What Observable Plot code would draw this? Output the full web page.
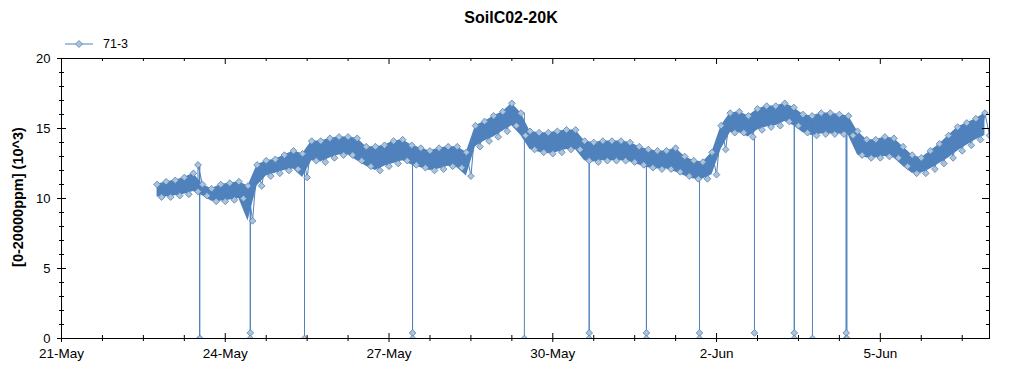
<!DOCTYPE html>
<html>
<head>
<meta charset="utf-8">
<script src="https://cdn.jsdelivr.net/npm/d3@7"></script>
<script src="https://cdn.jsdelivr.net/npm/@observablehq/plot@0.6"></script>
<style>
  body { margin: 0; background: #fff; font-family: "Liberation Sans", Arial, sans-serif; }
  #wrap { position: relative; width: 1024px; height: 375px; overflow: hidden; }
  #chart { position: absolute; left: 0; top: 0; }
  #title { position: absolute; left: 0; width: 1022px; top: 9px; text-align: center; font-weight: bold; font-size: 16px; color: #000; }
  #legend { position: absolute; left: 65px; top: 37px; display: flex; align-items: center; font-size: 12.5px; color: #000; }
  #legend svg { display: block; margin-right: 8px; }
  #ylabel { position: absolute; left: 18px; top: 197px; transform: translate(-50%, -50%) rotate(-90deg); white-space: nowrap; font-weight: bold; font-size: 14.5px; color: #000; }
</style>
</head>
<body>
<div id="wrap">
  <div id="chart"></div>
  <div id="title"></div>
  <div id="legend"></div>
  <div id="ylabel"></div>
</div>
<script>
// ---- data ----
const chartTitle = "SoilC02-20K";
const seriesName = "71-3";
const yTitle = "[0-20000ppm] (10^3)";

// regular 4-hour samples: upper and lower edge of the noisy trace
const seriesStart = "2021-05-22T18:00Z";
const stepHours = 4;
const upper = [
  11.0, 11.2, 11.3, 11.5, 11.8, 11.0, 10.7, 11.0, 11.1, 11.2,
  10.9, 12.4, 12.7, 12.8, 13.1, 13.4, 13.2, 14.1, 14.1, 14.3,
  14.4, 14.4, 14.3, 13.7, 13.7, 13.8, 14.1, 14.2, 13.8, 13.6,
  13.4, 13.6, 13.7, 13.7, 13.3, 15.2, 15.5, 15.9, 16.2, 16.8,
  16.1, 14.8, 14.7, 14.7, 14.8, 14.9, 14.9, 14.1, 14.0, 14.1,
  14.1, 14.1, 14.0, 13.7, 13.5, 13.4, 13.4, 13.6, 13.0, 12.7,
  12.6, 13.3, 15.2, 16.1, 16.2, 15.9, 16.4, 16.6, 16.6, 16.8,
  16.5, 16.0, 15.9, 16.1, 16.1, 16.0, 15.9, 14.8, 14.2, 14.2,
  14.4, 14.3, 13.7, 13.1, 12.9, 13.4, 13.9, 14.5, 15.1, 15.4,
  15.7, 16.1
];
const lower = [
  10.1, 10.1, 10.2, 10.3, 10.5, 10.2,  9.8,  9.8,  9.9, 10.0,
   8.4, 10.9, 11.6, 11.8, 12.0, 12.1, 11.5, 12.7, 12.6, 12.9,
  13.1, 13.1, 12.7, 12.3, 12.0, 12.3, 12.5, 12.7, 12.4, 12.2,
  12.0, 12.1, 12.3, 12.2, 11.6, 13.7, 14.1, 14.4, 14.8, 15.2,
  14.5, 13.5, 13.3, 13.2, 13.3, 13.5, 13.5, 12.7, 12.6, 12.7,
  12.7, 12.7, 12.6, 12.4, 12.2, 12.1, 12.1, 11.9, 11.6, 11.4,
  11.4, 11.7, 13.5, 14.7, 14.7, 14.4, 14.9, 15.1, 15.2, 15.5,
  15.2, 14.7, 14.5, 14.6, 14.6, 14.6, 14.5, 13.1, 12.9, 12.9,
  13.0, 12.9, 12.3, 11.8, 11.8, 12.1, 12.5, 12.9, 13.4, 13.8,
  14.2, 14.5
];

// isolated high reading
const outlierTimes = ["2021-05-23T12:00Z"];
const outlierValues = [12.4];

// sensor drop-outs
const dropTimes = [
  "2021-05-23T12:40Z", "2021-05-23T12:50Z",
  "2021-05-24T11:00Z", "2021-05-24T11:00Z",
  "2021-05-25T10:50Z",
  "2021-05-27T10:20Z", "2021-05-27T10:20Z",
  "2021-05-29T11:30Z",
  "2021-05-30T16:00Z", "2021-05-30T16:00Z",
  "2021-05-31T17:10Z", "2021-05-31T17:10Z",
  "2021-06-01T16:30Z", "2021-06-01T16:30Z",
  "2021-06-02T16:40Z",
  "2021-06-03T10:10Z", "2021-06-03T10:10Z",
  "2021-06-03T18:10Z",
  "2021-06-04T09:00Z", "2021-06-04T09:00Z", "2021-06-04T09:20Z"
];
const dropValues = [
  0, 0,
  0.4, 0,
  0,
  0.4, 0,
  0,
  0.4, 0,
  0.4, 0,
  0.4, 0,
  0.4,
  0.4, 0,
  0,
  0.4, 0, 0
];

const xDomain = ["2021-05-21T00:00Z", "2021-06-07T00:00Z"];
const xTickStepHours = 18;
const xLabelStepHours = 72;
const yMajor = [0, 5, 10, 15, 20];
const yMinor = [1, 2, 3, 4, 6, 7, 8, 9, 11, 12, 13, 14, 16, 17, 18, 19];

// ---- build tables ----
const H = 36e5;
const t0 = Date.parse(seriesStart);
const mainRows = [];
upper.forEach((v, i) => {
  const t = t0 + i * stepHours * H;
  mainRows.push({ t: new Date(t), v });
  mainRows.push({ t: new Date(t + stepHours * H / 2), v: lower[i] });
});
outlierTimes.forEach((s, i) => mainRows.push({ t: new Date(s), v: outlierValues[i] }));
mainRows.sort((a, b) => a.t - b.t);
const band = upper.map((v, i) => ({ t: new Date(t0 + i * stepHours * H), hi: v, lo: lower[i] }));

// each drop-out is joined to the reading just before it
const dropRows = dropTimes.map((s, i) => {
  const t = new Date(s);
  let prev = mainRows[0];
  for (const r of mainRows) { if (r.t <= t) prev = r; else break; }
  return { t, v: dropValues[i], from: prev.v };
});
const allRows = mainRows.concat(dropRows);

const d0 = Date.parse(xDomain[0]), d1 = Date.parse(xDomain[1]);
const totalHours = (d1 - d0) / H;
const xTicks = d3.range(0, totalHours, xTickStepHours).map(h => new Date(d0 + h * H));
const xMajor = d3.range(0, totalHours, xLabelStepHours).map(h => new Date(d0 + h * H));
const xMinor = xTicks.filter(d => !xMajor.some(m => +m === +d));

// ---- layout ----
const W = 1024, HT = 375, mL = 61, mR = 35, mT = 58, mB = 37;
const pw = W - mL - mR, ph = HT - mT - mB;
const blue = "#4f81bd", light = "#adc3d6";

const chart = Plot.plot({
  width: W, height: HT,
  marginLeft: mL, marginRight: mR, marginTop: mT, marginBottom: mB,
  style: { fontFamily: '"Liberation Sans", Arial, sans-serif', fontSize: "13px", color: "#000", background: "#fff", overflow: "visible" },
  x: { type: "utc", domain: [new Date(d0), new Date(d1)] },
  y: { domain: [0, 20] },
  marks: [
    Plot.areaY(band, { x: "t", y1: "lo", y2: "hi", fill: blue, clip: true }),
    Plot.ruleX(dropRows, { x: "t", y1: "v", y2: "from", stroke: blue, strokeWidth: 1 }),
    Plot.line(mainRows, { x: "t", y: "v", stroke: blue, strokeWidth: 1, clip: true }),
    Plot.dot(allRows, { x: "t", y: "v", symbol: "diamond2", r: 3, fill: light, stroke: blue, strokeWidth: 0.8, clip: true }),
    Plot.frame({ stroke: "#000", strokeWidth: 1 }),
    // left ticks (crossing)
    Plot.ruleY(yMajor, { insetLeft: -4, insetRight: pw - 5, stroke: "#000" }),
    Plot.ruleY(yMinor, { insetLeft: -2, insetRight: pw - 3, stroke: "#000" }),
    // right ticks (inward)
    Plot.ruleY(yMajor, { insetLeft: pw - 7, stroke: "#000" }),
    Plot.ruleY(yMinor, { insetLeft: pw - 3, stroke: "#000" }),
    // bottom ticks (crossing)
    Plot.ruleX(xMajor, { insetTop: ph - 5, insetBottom: -4, stroke: "#000" }),
    Plot.ruleX(xMinor, { insetTop: ph - 3, insetBottom: -3, stroke: "#000" }),
    // top ticks (inward)
    Plot.ruleX(xMajor, { insetBottom: ph - 6, stroke: "#000" }),
    Plot.ruleX(xMinor, { insetBottom: ph - 3, stroke: "#000" }),
    Plot.axisY({ ticks: yMajor, tickSize: 0, tickPadding: 11, label: null, fontSize: 13 }),
    Plot.axisX({ ticks: xMajor, tickSize: 0, tickPadding: 10, label: null, fontSize: 13.5, tickFormat: d3.utcFormat("%-d-%b") })
  ]
});
document.getElementById("chart").appendChild(chart);

document.getElementById("title").textContent = chartTitle;
document.getElementById("ylabel").textContent = yTitle;
const lg = document.getElementById("legend");
lg.innerHTML = `<svg width="30" height="12"><line x1="0" y1="6" x2="28" y2="6" stroke="${blue}" stroke-width="1"/><path d="M14,2.5L17.5,6L14,9.5L10.5,6Z" fill="${light}" stroke="${blue}" stroke-width="0.8"/></svg><span></span>`;
lg.querySelector("span").textContent = seriesName;
</script>
</body>
</html>
